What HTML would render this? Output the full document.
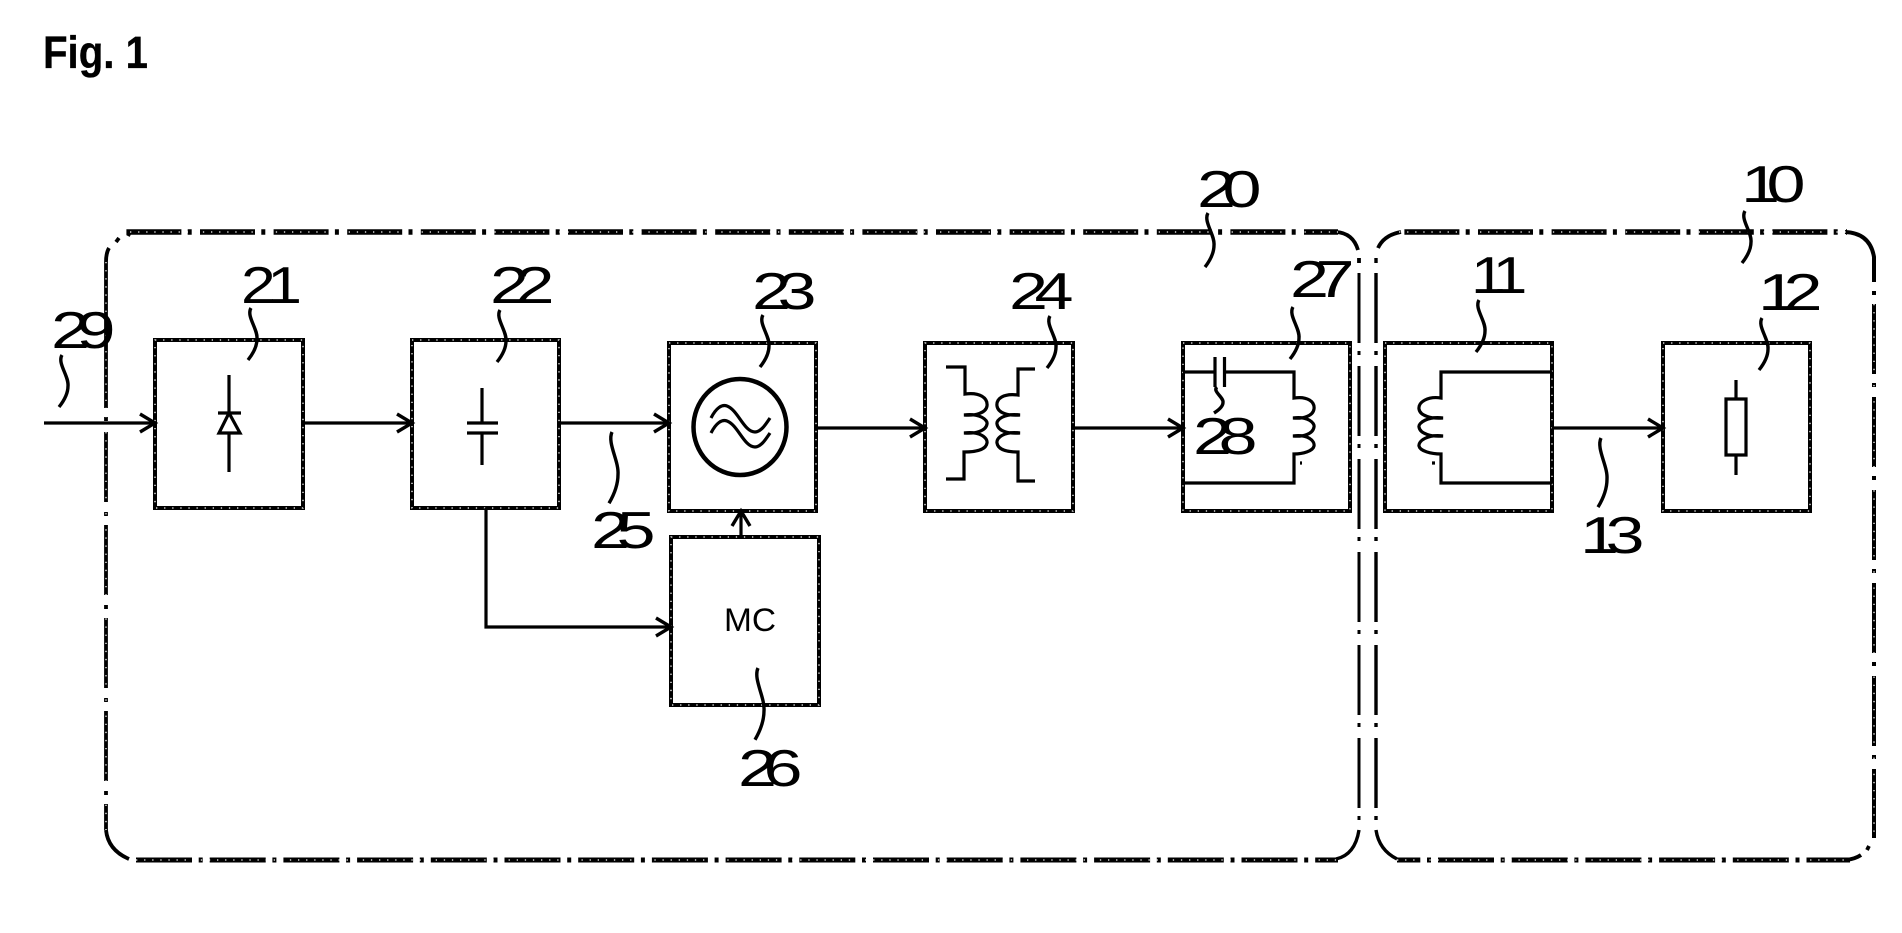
<!DOCTYPE html>
<html><head><meta charset="utf-8"><style>
html,body{margin:0;padding:0;background:#fff;width:1902px;height:933px;overflow:hidden}
svg{display:block}
.n{font-family:"Liberation Sans",sans-serif;font-size:52px;fill:#000;letter-spacing:-10px}
.m{letter-spacing:-7px}
.l{fill:none;stroke:#000;stroke-width:3.2}
.b{fill:none;stroke:#000;stroke-width:4.5}
.o{fill:none;stroke:#000}
.d{fill:none;stroke:#fff;stroke-width:1.3;stroke-dasharray:1.3 6.8}
</style></head><body>
<svg width="1902" height="933" viewBox="0 0 1902 933" xmlns="http://www.w3.org/2000/svg">
<defs>
<path id="sq" d="M0 0C-5 8 7 21 6 31C6 39 1 47-3 52" fill="none" stroke="#000" stroke-width="3.4" vector-effect="non-scaling-stroke"/>
<path id="ah" d="M-15-9L0 0L-15 9" fill="none" stroke="#000" stroke-width="3.4"/>
<path id="boxes" d="M155 340H303V508H155ZM412 340H559V508H412ZM669 343H816V511H669ZM925 343H1073V511H925ZM1183 343H1350V511H1183ZM1385 343H1552V511H1385ZM1663 343H1810V511H1663ZM671 537H819V705H671Z"/>
<path id="wires" d="M44 423H155M303 423H412M559 423H669M816 428H925M1073 428H1183M1552 428H1663M486 508V627H671M741 537V511"/>
</defs>
<text x="43" y="68" font-family="Liberation Sans, sans-serif" font-weight="700" font-size="45" stroke="#000" stroke-width=".3" textLength="105" lengthAdjust="spacingAndGlyphs" fill="#000">Fig. 1</text>

<!-- outer box 20 -->
<g class="o">
<path d="M126.4 232H1338" stroke-width="5.5" stroke-dasharray="55 6.3 4 8.3"/>
<path d="M136 860H1338" stroke-width="5" stroke-dasharray="56 6.7 4 7"/>
<path d="M106 432V830" stroke-width="3.8" stroke-dasharray="70 10 4 9"/>
<path d="M1359 273V830" stroke-width="3" stroke-dasharray="70 8 4 11"/>
<path d="M106 417V421M1359 258V263" stroke-width="3.8"/>
<path d="M109 248Q106 253 106 262V408" stroke-width="3.8"/>
<path d="M116 242L119 238" stroke-width="3.8"/>
<path d="M128 236L130 232" stroke-width="3.8"/>
<path d="M106 830Q108 850 129 859" stroke-width="3.8"/>
<path d="M1336 232Q1353 233 1358 250" stroke-width="3.8"/>
<path d="M1336 859Q1355 855 1359 830" stroke-width="3.4"/>
<!-- outer box 10 -->
<path d="M1399 232H1847" stroke-width="5.5" stroke-dasharray="55 6.3 4 8.3" stroke-dashoffset="68.2"/>
<path d="M1397 860H1850" stroke-width="5" stroke-dasharray="56 6.7 4 7" stroke-dashoffset="32.7"/>
<path d="M1376 273V830" stroke-width="3.4" stroke-dasharray="70 8 4 11"/>
<path d="M1376 258V263" stroke-width="3.4"/>
<path d="M1874 304V838" stroke-width="4" stroke-dasharray="70 9 4 10"/>
<path d="M1874 291V295" stroke-width="4"/>
<path d="M1378 248Q1384 235 1401 232" stroke-width="3.8"/>
<path d="M1376 830Q1379 850 1397 859" stroke-width="3.4"/>
<path d="M1845 232Q1870 233 1874 257V282" stroke-width="4"/>
<path d="M1846 860Q1855 859 1861 855" stroke-width="4"/>
<path d="M1867 850L1869 846" stroke-width="3.8"/>
</g>
<path class="d" d="M130 232H1338M136 860H1338M1399 232H1847M1397 860H1850M106 262V830M1874 304V838"/>

<!-- boxes -->
<use href="#boxes" fill="none" stroke="#000" stroke-width="4"/>
<use href="#boxes" class="d"/>
<!-- wires -->
<use href="#wires" fill="none" stroke="#000" stroke-width="3.2"/>
<use href="#ah" transform="translate(155 423)"/>
<use href="#ah" transform="translate(412 423)"/>
<use href="#ah" transform="translate(669 423)"/>
<use href="#ah" transform="translate(925 428)"/>
<use href="#ah" transform="translate(1183 428)"/>
<use href="#ah" transform="translate(1663 428)"/>
<use href="#ah" transform="translate(671 627)"/>
<use href="#ah" transform="translate(741 511) rotate(-90)"/>

<!-- diode -->
<path class="l" d="M229 375V413M229 433V472M218 413H241M229 413L219 433H240Z"/>
<!-- capacitor -->
<path class="l" d="M482 388V423M482 433V465M467 423H498M467 433H498"/>
<!-- oscillator -->
<ellipse cx="740" cy="427" rx="46.5" ry="48" class="b"/>
<path class="l" d="M711 418C716 408 722 404 727 406C738 410 744 432 755 432C761 432 766 424 770 418M711 433C716 423 722 419 727 421C738 425 744 447 755 447C761 447 766 439 770 433"/>
<!-- transformer -->
<path class="l" d="M946 367H965V394C980 392 988 398 987 406C986 413 975 416 964 415C980 413 988 420 987 424C986 431 975 434 964 433C980 431 988 438 987 443C986 450 975 452 964 452V479H946"/>
<path class="l" d="M1035 369H1018V395C1003 393 996 399 997 406C998 413 1008 416 1020 415C1004 413 996 420 997 424C998 431 1008 434 1020 433C1004 431 996 438 997 443C998 450 1008 452 1018 452V481H1035"/>
<!-- tank 27 -->
<path class="l" d="M1183 372H1215M1224.500 372H1294V398C1308 396 1315 402 1314 409C1313 416 1303 419 1293 418C1308 416 1315 423 1314 427C1313 434 1303 437 1293 436C1308 434 1315 441 1314 446C1313 451 1303 454 1294 454V483H1183M1215 357V387M1224.500 357V387M1300 463H1302"/>
<!-- coil 11 -->
<path class="l" d="M1552 372H1441V398C1428 396 1418 402 1419 409C1420 416 1432 419 1443 418C1428 416 1418 423 1419 427C1420 434 1432 437 1443 436C1428 434 1418 441 1419 446C1420 451 1431 454 1441 454V483H1552M1432 463H1435"/>
<!-- resistor -->
<path class="l" d="M1726 399H1746V455H1726ZM1736 380V399M1736 455V475"/>

<!-- leaders -->
<use href="#sq" transform="translate(251 308)"/>
<use href="#sq" transform="translate(500 310)"/>
<use href="#sq" transform="translate(62 355)"/>
<use href="#sq" transform="translate(612 432) scale(1 1.37)"/>
<use href="#sq" transform="translate(763 315)"/>
<use href="#sq" transform="translate(1050 316)"/>
<use href="#sq" transform="translate(1208 213) scale(1 1.04)"/>
<use href="#sq" transform="translate(1217 387) scale(1 .5)"/>
<use href="#sq" transform="translate(1293 307)"/>
<use href="#sq" transform="translate(1479 300)"/>
<use href="#sq" transform="translate(1762 318)"/>
<use href="#sq" transform="translate(1745 211)"/>
<use href="#sq" transform="translate(1601 438) scale(1 1.33)"/>
<use href="#sq" transform="translate(758 668) scale(1 1.38)"/>

<!-- labels -->
<text class="n m" transform="translate(241 303) scale(1.2 1)">21</text>
<text class="n" transform="translate(490 303) scale(1.35 1)">22</text>
<text class="n" transform="translate(51 348) scale(1.35 1)">29</text>
<text class="n" transform="translate(591 548) scale(1.35 1)">25</text>
<text class="n" transform="translate(738 786) scale(1.35 1)">26</text>
<text class="n" transform="translate(752 309) scale(1.35 1)">23</text>
<text class="n" transform="translate(1009 309) scale(1.35 1)">24</text>
<text class="n" transform="translate(1197 207) scale(1.35 1)">20</text>
<text class="n" transform="translate(1193 454) scale(1.35 1)">28</text>
<text class="n" transform="translate(1290 297) scale(1.35 1)">27</text>
<text class="n m" transform="translate(1471 293) scale(1.2 1)">11</text>
<text class="n" transform="translate(1741 202) scale(1.35 1)">10</text>
<text class="n" transform="translate(1758 310) scale(1.35 1)">12</text>
<text class="n" transform="translate(1580 553) scale(1.35 1)">13</text>
<text x="724" y="631" font-family="Liberation Sans, sans-serif" font-size="32" textLength="52" lengthAdjust="spacingAndGlyphs" fill="#000">MC</text>
</svg>
</body></html>
